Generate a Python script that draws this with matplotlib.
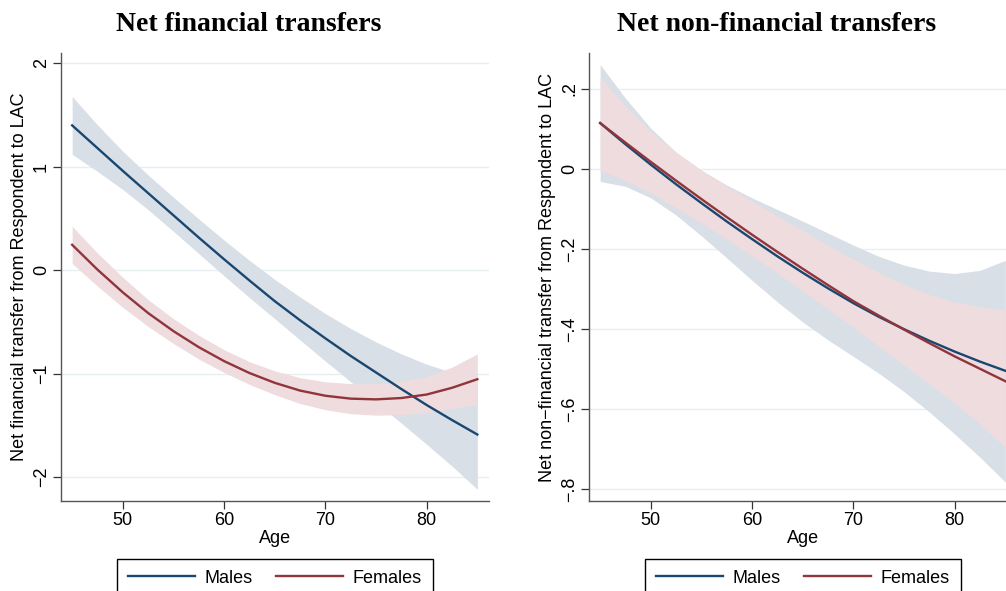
import matplotlib.pyplot as plt

ages = [45, 47.5, 50, 52.5, 55, 57.5, 60, 62.5, 65, 67.5, 70, 72.5, 75, 77.5, 80, 82.5, 85]

# Net financial transfers (left panel)
fin_males = [1.40, 1.18, 0.96, 0.745, 0.53, 0.315, 0.105, -0.10, -0.30, -0.485, -0.66,
             -0.83, -0.99, -1.15, -1.305, -1.45, -1.59]
fin_males_hi = [1.68, 1.405, 1.15, 0.92, 0.705, 0.495, 0.29, 0.095, -0.09, -0.26, -0.42,
                -0.565, -0.695, -0.81, -0.91, -0.99, -1.06]
fin_males_lo = [1.12, 0.955, 0.78, 0.585, 0.375, 0.16, -0.055, -0.265, -0.47, -0.675, -0.88,
                -1.08, -1.28, -1.48, -1.685, -1.895, -2.12]
fin_females = [0.245, 0.005, -0.215, -0.415, -0.59, -0.745, -0.88, -0.995, -1.09, -1.165,
               -1.215, -1.243, -1.25, -1.237, -1.203, -1.138, -1.055]
fin_females_hi = [0.425, 0.165, -0.07, -0.285, -0.47, -0.63, -0.77, -0.885, -0.975, -1.04,
                  -1.08, -1.098, -1.097, -1.077, -1.028, -0.938, -0.81]
fin_females_lo = [0.065, -0.155, -0.36, -0.545, -0.71, -0.86, -0.99, -1.105, -1.205, -1.29,
                  -1.35, -1.388, -1.403, -1.397, -1.378, -1.338, -1.30]

# Net non-financial transfers (right panel)
nonfin_males = [0.115, 0.062, 0.011, -0.038, -0.085, -0.131, -0.175, -0.218, -0.259, -0.298,
                -0.335, -0.369, -0.400, -0.429, -0.456, -0.481, -0.504]
nonfin_males_hi = [0.261, 0.177, 0.102, 0.042, -0.003, -0.040, -0.072, -0.101, -0.130, -0.160,
                   -0.190, -0.218, -0.240, -0.255, -0.261, -0.253, -0.228]
nonfin_males_lo = [-0.031, -0.043, -0.072, -0.115, -0.167, -0.222, -0.278, -0.332, -0.382,
                   -0.427, -0.468, -0.510, -0.556, -0.607, -0.662, -0.720, -0.782]
nonfin_females = [0.115, 0.066, 0.018, -0.029, -0.075, -0.120, -0.164, -0.207, -0.249, -0.290,
                  -0.330, -0.366, -0.401, -0.435, -0.468, -0.499, -0.530]
nonfin_females_hi = [0.230, 0.158, 0.095, 0.042, -0.003, -0.043, -0.080, -0.117, -0.153, -0.190,
                     -0.225, -0.258, -0.288, -0.313, -0.332, -0.344, -0.352]
nonfin_females_lo = [-0.003, -0.028, -0.060, -0.097, -0.135, -0.175, -0.217, -0.260, -0.305,
                     -0.350, -0.396, -0.443, -0.490, -0.537, -0.585, -0.637, -0.696]

fin_yticks = [-2, -1, 0, 1, 2]
fin_yticklabels = ["\u22122", "\u22121", "0", "1", "2"]
nonfin_yticks = [-0.8, -0.6, -0.4, -0.2, 0, 0.2]
nonfin_yticklabels = ["\u2212.8", "\u2212.6", "\u2212.4", "\u2212.2", "0", ".2"]
xticks = [50, 60, 70, 80]

titles = ["Net financial transfers", "Net non-financial transfers"]
ylabels = ["Net financial transfer from Respondent to LAC",
           "Net non\u2212financial transfer from Respondent to LAC"]

BLUE = "#1a476f"
RED = "#90353b"
BLUE_FILL = "#d8dfe7"
RED_FILL = "#eedcde"
GRID = "#e6eff0"

plt.rcParams["font.family"] = ["Liberation Sans", "DejaVu Sans"]

fig = plt.figure(figsize=(10.06, 5.91), dpi=100)
W, H = 1006, 591

panels = [
    dict(left=61, ylim=(-2.23, 2.10), yticks=fin_yticks, yticklabels=fin_yticklabels,
         males=(fin_males, fin_males_lo, fin_males_hi),
         females=(fin_females, fin_females_lo, fin_females_hi),
         title_x=249, ylabel_x=20),
    dict(left=589, ylim=(-0.8285, 0.29), yticks=nonfin_yticks, yticklabels=nonfin_yticklabels,
         males=(nonfin_males, nonfin_males_lo, nonfin_males_hi),
         females=(nonfin_females, nonfin_females_lo, nonfin_females_hi),
         title_x=777, ylabel_x=547),
]

for i, p in enumerate(panels):
    ax = fig.add_axes([p["left"] / W, (H - 500.7) / H, 428 / W, 447.7 / H])
    m, m_lo, m_hi = p["males"]
    f, f_lo, f_hi = p["females"]

    ax.fill_between(ages, m_lo, m_hi, color=BLUE_FILL, lw=0, zorder=2)
    ax.fill_between(ages, f_lo, f_hi, color=RED_FILL, lw=0, zorder=3)
    ax.plot(ages, m, color=BLUE, lw=1.7, label="Males", zorder=4)
    ax.plot(ages, f, color=RED, lw=1.7, label="Females", zorder=5)

    ax.set_xlim(43.9, 86.15)
    ax.set_ylim(*p["ylim"])
    ax.set_xticks(xticks)
    ax.set_yticks(p["yticks"])
    ax.set_yticklabels(p["yticklabels"], rotation=90, va="center")
    ax.grid(axis="y", color=GRID, lw=1.0, zorder=0)
    ax.set_axisbelow(True)

    for side in ("top", "right"):
        ax.spines[side].set_visible(False)
    for side in ("left", "bottom"):
        ax.spines[side].set_color("#555555")
        ax.spines[side].set_linewidth(1.0)

    ax.tick_params(axis="both", length=6, width=0.9, color="#333333", labelsize=13)
    ax.tick_params(axis="x", pad=2)
    ax.tick_params(axis="y", pad=2)
    ax.set_xlabel("Age", fontsize=13, labelpad=1)

    fig.text(p["ylabel_x"] / W, 1 - 277 / H, ylabels[i], rotation=90,
             ha="center", va="center", fontsize=13)
    fig.text(p["title_x"] / W, 1 - 30.7 / H, titles[i], ha="center", va="baseline",
             fontsize=20, fontweight="bold", family=["Liberation Serif"])

    leg = ax.legend(loc="upper center", bbox_to_anchor=(0.5, -0.11), ncol=2,
                    fontsize=13, handlelength=3.7, handletextpad=0.55,
                    columnspacing=1.3, borderpad=0.6, fancybox=False,
                    edgecolor="black", framealpha=1)
    leg.get_frame().set_linewidth(1.0)

fig.savefig("out.png", dpi=100)
